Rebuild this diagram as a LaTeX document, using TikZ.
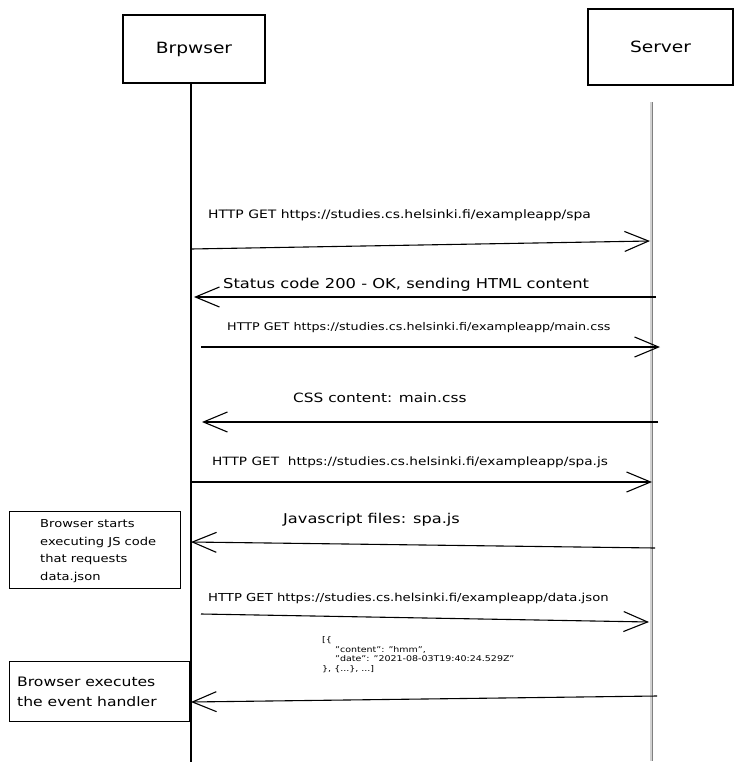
\documentclass[tikz,border=0pt]{standalone}
\usepackage{fontspec}
\setmainfont{DejaVu Sans}[FakeStretch=1.2]
\usetikzlibrary{arrows.meta}

\begin{document}
\begin{tikzpicture}[x=1pt, y=-1pt,
	actor/.style={draw, line width=1.6pt, font=\fontsize{15.5}{18}\selectfont},
	life/.style={line width=1.4pt},
	msg/.style={line width=1.1pt, -{Straight Barb[length=24pt, width=20pt, line width=1.1pt]}},
	req/.style={anchor = west, inner sep = 0},
	resp/.style={anchor = west, inner sep = 0, font=\fontsize{13.5}{16}\selectfont},
	notebox/.style={draw, line width=1.2pt, anchor = north west, inner sep = 0}]
	\useasboundingbox (0,0) rectangle (741,771);
	% Actors
	\node[actor, minimum width=142pt, minimum height=68pt] at (194,49) (browser) {Brpwser};
	\node[actor, minimum width=145pt, minimum height=76pt] at (660.5,47) (server) {Server};
	% Lifelines
	\coordinate (bEnd) at (191,762);
	\coordinate (sTop) at (651,102);
	\coordinate (sEnd) at (651,761);
	\draw[life] (browser.south -| bEnd) -- (bEnd);
	\draw[life, draw=gray, line width=0.9pt, double=gray!35, double distance=1.2pt] (sTop) -- (sEnd);
	% End points of the messages
	\coordinate (b1) at (191,249); \coordinate (s1) at (650,241);
	\coordinate (b2) at (194,297); \coordinate (s2) at (656,297);
	\coordinate (b3) at (201,347); \coordinate (s3) at (660,347);
	\coordinate (b4) at (202,422); \coordinate (s4) at (658,422);
	\coordinate (b5) at (190,482); \coordinate (s5) at (652,482);
	\coordinate (b6) at (191,542); \coordinate (s6) at (655,548);
	\coordinate (b7) at (201,614); \coordinate (s7) at (649,622);
	\coordinate (b8) at (191,702); \coordinate (s8) at (657,696);
	% Messages
	\draw[msg] (b1) -- (s1);
	\draw[msg] (s2) -- (b2);
	\draw[msg] (b3) -- (s3);
	\draw[msg] (s4) -- (b4);
	\draw[msg] (b5) -- (s5);
	\draw[msg] (s6) -- (b6);
	\draw[msg] (b7) -- (s7);
	\draw[msg] (s8) -- (b8);
	% Labels
	\node[req, font=\fontsize{11.6}{14}\selectfont] at (208,215) (reqSpa) {HTTP GET https://studies.cs.helsinki.fi/exampleapp/spa};
	\node[resp, font=\fontsize{13.6}{16}\selectfont] at (223,285) (respHtml) {Status code 200 - OK, sending HTML content};
	\node[req, font=\fontsize{10.6}{13}\selectfont] at (227,328) (reqCss) {HTTP GET https://studies.cs.helsinki.fi/exampleapp/main.css};
	\node[resp, font=\fontsize{12.8}{15}\selectfont] at (293,398) (respCss) {CSS content: main.css};
	\node[req, font=\fontsize{11.4}{14}\selectfont] at (212,462) (reqJs) {HTTP GET\ \ https://studies.cs.helsinki.fi/exampleapp/spa.js};
	\node[resp] at (283,520) (respJs) {Javascript files: spa.js};
	\node[req, font=\fontsize{11}{13}\selectfont] at (208,598) (reqData) {HTTP GET https://studies.cs.helsinki.fi/exampleapp/data.json};
	\node[anchor = north west, inner sep = 0, align=left, font=\fontsize{7.9}{9.8}\selectfont] at (322,636) (json) {[\{\\\hspace{13pt}"content": "hmm",\\\hspace{13pt}"date": "2021-08-03T19:40:24.529Z"\\\}, \{...\}, ...]};
	% Notes
	\node[notebox, minimum width=171pt, minimum height=77pt] at (9,511) (jsBox) {};
	\node[anchor = west, inner sep = 0, align=left, font=\fontsize{10.9}{17.5}\selectfont] at (40,551) (jsNote) {Browser starts\\executing JS code\\that requests\\data.json};
	\node[notebox, minimum width=180pt, minimum height=60pt] at (9,661) (evBox) {};
	\node[anchor = west, inner sep = 0, align=left, font=\fontsize{13}{20}\selectfont] at (17,692) (evNote) {Browser executes\\the event handler};
\end{tikzpicture}
\end{document}
